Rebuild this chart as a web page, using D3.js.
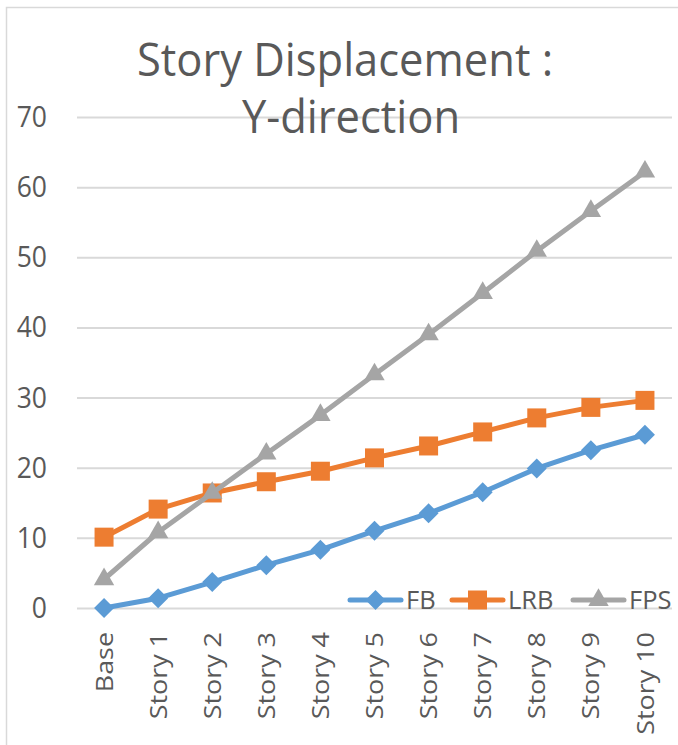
<!DOCTYPE html>
<html>
<head>
<meta charset="utf-8">
<script src="https://cdn.jsdelivr.net/npm/d3@7"></script>
<style>
  body { margin: 0; background: #fff; }
  text { font-family: "Open Sans", sans-serif; fill: #595959; }
</style>
</head>
<body>
<svg id="chart" width="678" height="745"></svg>
<script>
const categories = ['Base', 'Story 1', 'Story 2', 'Story 3', 'Story 4', 'Story 5',
                    'Story 6', 'Story 7', 'Story 8', 'Story 9', 'Story 10'];
const fb  = [0, 1.4, 3.7, 6.1, 8.3, 11.0, 13.5, 16.5, 19.9, 22.5, 24.7];
const lrb = [10.1, 14.1, 16.4, 18.0, 19.5, 21.4, 23.1, 25.1, 27.1, 28.6, 29.6];
const fps = [4.1, 10.8, 16.4, 22.0, 27.5, 33.3, 39.0, 44.9, 50.9, 56.6, 62.2];
const yTicks = [0, 10, 20, 30, 40, 50, 60, 70];
const seriesNames = ['FB', 'LRB', 'FPS'];

const series = [
    { name: 'FB',  values: fb,  color: '#5B9BD5', shape: 'diamond' },
    { name: 'LRB', values: lrb, color: '#ED7D31', shape: 'square' },
    { name: 'FPS', values: fps, color: '#A5A5A5', shape: 'triangle' }
];

const width = 678, height = 745;
const plot = { left: 77, right: 672, top: 117, bottom: 608 };

const svg = d3.select('#chart');

// chart frame
svg.append('rect')
    .attr('x', 6.5).attr('y', 7.5)
    .attr('width', 720).attr('height', 780)
    .attr('fill', 'none').attr('stroke', '#d9d9d9').attr('stroke-width', 1.5);

const x = d3.scalePoint()
    .domain(categories)
    .range([plot.left, plot.right])
    .padding(0.5);

const y = d3.scaleLinear()
    .domain([0, 70])
    .range([plot.bottom, plot.top]);

// gridlines + y labels
const yAxis = svg.append('g')
    .attr('transform', `translate(${plot.left},0)`)
    .call(d3.axisLeft(y).tickValues(yTicks).tickSize(-(plot.right - plot.left)).tickPadding(30));
yAxis.select('.domain').remove();
yAxis.selectAll('.tick line').attr('stroke', '#d9d9d9').attr('stroke-width', 2);
yAxis.selectAll('.tick text')
    .style('font-size', '26.5px')
    .attr('fill', '#595959')
    .attr('transform', 'scale(1,1.12)');

// x labels (rotated)
const xAxis = svg.append('g')
    .attr('transform', `translate(0,${plot.bottom})`)
    .call(d3.axisBottom(x).tickSize(0));
xAxis.select('.domain').remove();
xAxis.selectAll('.tick text')
    .style('font-size', '23px')
    .attr('fill', '#595959')
    .attr('text-anchor', 'end')
    .attr('transform', 'translate(0,24) scale(1,1.17) rotate(-90)')
    .attr('x', 0)
    .attr('y', 0)
    .attr('dy', '0.35em');

// title
const title = svg.append('text')
    .attr('text-anchor', 'middle')
    .attr('transform', 'translate(345,76) scale(1,1.06)')
    .style('font-size', '43.5px');
title.append('tspan').attr('x', 0).attr('y', 0).text('Story Displacement :');
title.append('tspan').attr('x', 6).attr('y', 53.8).text('Y-direction');

const shapes = {
    diamond:  d3.symbol().type(d3.symbolSquare).size(200),
    square:   d3.symbol().type(d3.symbolSquare).size(361),
    triangle: d3.symbol().type(d3.symbolTriangle).size(180)
};
const rot = s => s === 'diamond' ? ' rotate(45)' : '';

const line = d3.line()
    .x((d, i) => x(categories[i]))
    .y(d => y(d));

series.forEach(s => {
    svg.append('path')
        .datum(s.values)
        .attr('fill', 'none')
        .attr('stroke', s.color)
        .attr('stroke-width', 5)
        .attr('stroke-linejoin', 'round')
        .attr('d', line);

    svg.selectAll(null)
        .data(s.values)
        .enter().append('path')
        .attr('d', shapes[s.shape]())
        .attr('fill', s.color)
        .attr('transform', (d, i) => `translate(${x(categories[i])},${y(d)})${rot(s.shape)}`);
});

// legend
const legendX = [350, 452, 573];
const legend = svg.append('g').attr('transform', 'translate(0,600)');
series.forEach((s, i) => {
    const g = legend.append('g').attr('transform', `translate(${legendX[i]},0)`);
    g.append('line')
        .attr('x1', 0).attr('x2', 51)
        .attr('stroke', s.color).attr('stroke-width', 5).attr('stroke-linecap', 'round');
    g.append('path')
        .attr('d', shapes[s.shape]())
        .attr('fill', s.color)
        .attr('transform', `translate(25.5,0)${rot(s.shape)}`);
    g.append('text')
        .attr('x', 56).attr('y', 8.5)
        .style('font-size', '25.5px')
        .text(seriesNames[i]);
});
</script>
</body>
</html>
